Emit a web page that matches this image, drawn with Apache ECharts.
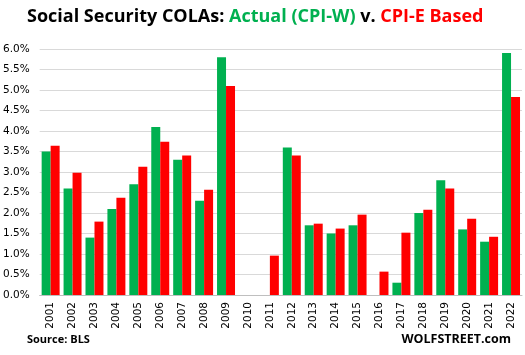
<!DOCTYPE html>
<html><head><meta charset="utf-8">
<script src="https://cdn.jsdelivr.net/npm/echarts@6/dist/echarts.min.js"></script>
<style>html,body{margin:0;padding:0;background:#fff}#c{width:525px;height:355px}</style>
</head><body><div id="c"></div>
<script>
const years = ['2001','2002','2003','2004','2005','2006','2007','2008','2009','2010','2011','2012','2013','2014','2015','2016','2017','2018','2019','2020','2021','2022'];
const cpiW = [3.5,2.6,1.4,2.1,2.7,4.1,3.3,2.3,5.8,0,0,3.6,1.7,1.5,1.7,0,0.3,2.0,2.8,1.6,1.3,5.9];
const cpiE = [3.64,2.98,1.79,2.37,3.13,3.74,3.4,2.57,5.1,0,0.96,3.4,1.74,1.62,1.96,0.57,1.52,2.08,2.6,1.86,1.42,4.83];
const yTicks = {min:0, max:6, interval:0.5};

const chart = echarts.init(document.getElementById('c'), null, {renderer:'canvas'});
chart.setOption({
  animation:false,
  backgroundColor:'#fff',
  title:[{
    text:'{b|Social Security COLAs: }{g|Actual (CPI-W)}{b| v. }{r|CPI-E Based}',
    left:27, top:8, padding:0,
    textStyle:{rich:{
      b:{fontFamily:'Open Sans',fontWeight:'bold',fontSize:18,color:'#000'},
      g:{fontFamily:'Open Sans',fontWeight:'bold',fontSize:18,color:'#00B050'},
      r:{fontFamily:'Open Sans',fontWeight:'bold',fontSize:18,color:'#FF0000'}
    }}
  },{
    text:'Source: BLS', left:27, top:334, padding:0,
    textStyle:{fontFamily:'Open Sans',fontWeight:'bold',fontSize:11,color:'#000'}
  },{
    text:'WOLFSTREET.com', right:14, top:333, padding:0,
    textStyle:{fontFamily:'Open Sans',fontWeight:'bold',fontSize:12.5,color:'#000'}
  }],
  grid:{left:37,right:3,top:49,bottom:60,containLabel:false},
  xAxis:{type:'category',data:years,
    axisLine:{lineStyle:{color:'#bfbfbf'}},axisTick:{show:false},
    axisLabel:{rotate:90,interval:0,fontFamily:'DejaVu Sans',fontSize:10.5,color:'#000',margin:7}},
  yAxis:{type:'value',min:yTicks.min,max:yTicks.max,interval:yTicks.interval,
    axisLine:{show:false},axisTick:{show:false},
    splitLine:{lineStyle:{color:'#d9d9d9',width:1}},
    axisLabel:{formatter:v=>v.toFixed(1)+'%',fontFamily:'DejaVu Sans',fontSize:10.5,color:'#000',margin:10}},
  series:[
    {type:'bar',data:cpiW,itemStyle:{color:'#00B050'},barGap:'0%',barCategoryGap:'18%'},
    {type:'bar',data:cpiE,itemStyle:{color:'#FF0000'},barGap:'0%',barCategoryGap:'18%'}
  ]
});
</script></body></html>
